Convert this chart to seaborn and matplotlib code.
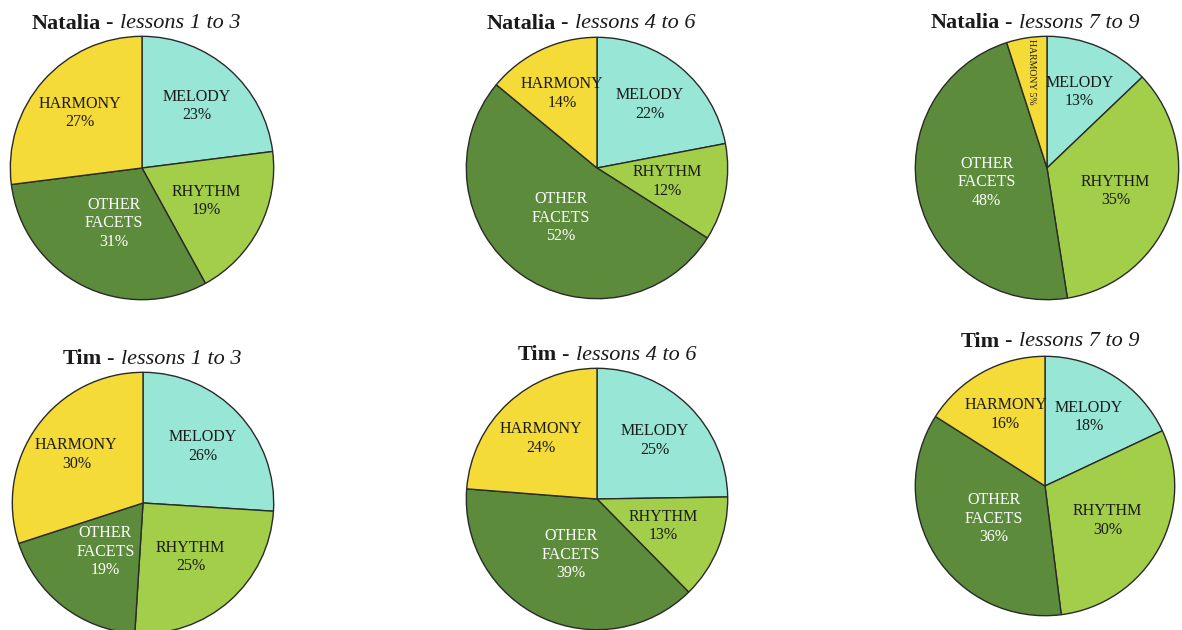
import matplotlib
matplotlib.use("Agg")
import matplotlib.pyplot as plt
import numpy as np
import seaborn as sns

sns.set_theme(style="white")
plt.rcParams['font.family'] = ['Liberation Serif', 'DejaVu Serif']

# ---- data ----
categories = ["MELODY", "RHYTHM", "OTHER\nFACETS", "HARMONY"]
students = ["Natalia", "Natalia", "Natalia", "Tim", "Tim", "Tim"]
periods = ["lessons 1 to 3", "lessons 4 to 6", "lessons 7 to 9",
           "lessons 1 to 3", "lessons 4 to 6", "lessons 7 to 9"]
natalia_1_3 = [23, 19, 31, 27]
natalia_4_6 = [22, 12, 52, 14]
natalia_7_9 = [13, 35, 48, 5]
tim_1_3 = [26, 25, 19, 30]
tim_4_6 = [25, 13, 39, 24]
tim_7_9 = [18, 30, 36, 16]
all_values = [natalia_1_3, natalia_4_6, natalia_7_9, tim_1_3, tim_4_6, tim_7_9]

# ---- style ----
colors = ["#98E7D6", "#A3CE49", "#5B8B3B", "#F4DB38"]
text_colors = ["#1a1a1a", "#1a1a1a", "#ffffff", "#1a1a1a"]
label_dist = [0.63, 0.55, 0.47, 0.63]

W, H = 1182, 630
fig = plt.figure(figsize=(W / 100, H / 100), dpi=100)
fig.patch.set_facecolor("white")
renderer = fig.canvas.get_renderer()

# pixel layout: (cx, cy, r) and title (x, y)
layout = [
    (142, 168, 133, 136, 24),
    (597, 168, 132, 591, 24),
    (1047, 168, 133, 1035, 23),
    (143, 503, 132, 152, 359),
    (597, 499, 132, 607, 355),
    (1045, 486, 131, 1050, 342),
]


def title(x_px, y_px, who, per, size=16):
    parts = [(who, "bold", "normal"), ("-", "normal", "normal"), (per, "normal", "italic")]
    gaps = [size * 0.28, size * 0.42]
    texts, widths = [], []
    for s, wt, st in parts:
        t = fig.text(0, 1 - y_px / H, s, fontsize=size, fontweight=wt, fontstyle=st,
                     ha="left", va="center", color="#1a1a1a")
        bb = t.get_window_extent(renderer=renderer)
        texts.append(t)
        widths.append(bb.width)
    total = sum(widths) + sum(gaps)
    x = x_px - total / 2
    for i, (t, w) in enumerate(zip(texts, widths)):
        t.set_x(x / W)
        x += w + (gaps[i] if i < len(gaps) else 0)


for vals, who, per, (cx, cy, r, tx, ty) in zip(all_values, students, periods, layout):
    ax = fig.add_axes([(cx - r) / W, (H - cy - r) / H, 2 * r / W, 2 * r / H])
    wedges, _ = ax.pie(vals, colors=colors, startangle=90, counterclock=False,
                       radius=1.0, labels=None,
                       wedgeprops=dict(edgecolor="#2a2a2a", linewidth=1.0))
    total = sum(vals)
    for w, cat, v, tc, ld in zip(wedges, categories, vals, text_colors, label_dist):
        ang = np.deg2rad((w.theta1 + w.theta2) / 2)
        if v / total < 0.08:
            d = 0.74
            ax.text(d * np.cos(ang), d * np.sin(ang), cat.replace("\n", " ") + f" {v}%",
                    ha="center", va="center", rotation=-90, fontsize=7,
                    color=tc)
        else:
            ax.text(ld * np.cos(ang), ld * np.sin(ang), f"{cat}\n{v}%",
                    ha="center", va="center", fontsize=11.5, color=tc,
                    linespacing=1.2)
    ax.set_xlim(-1.01, 1.01)
    ax.set_ylim(-1.01, 1.01)
    ax.set_aspect("equal")
    ax.axis("off")
    title(tx, ty, who, per)

fig.savefig("out.png", dpi=100, facecolor="white")
